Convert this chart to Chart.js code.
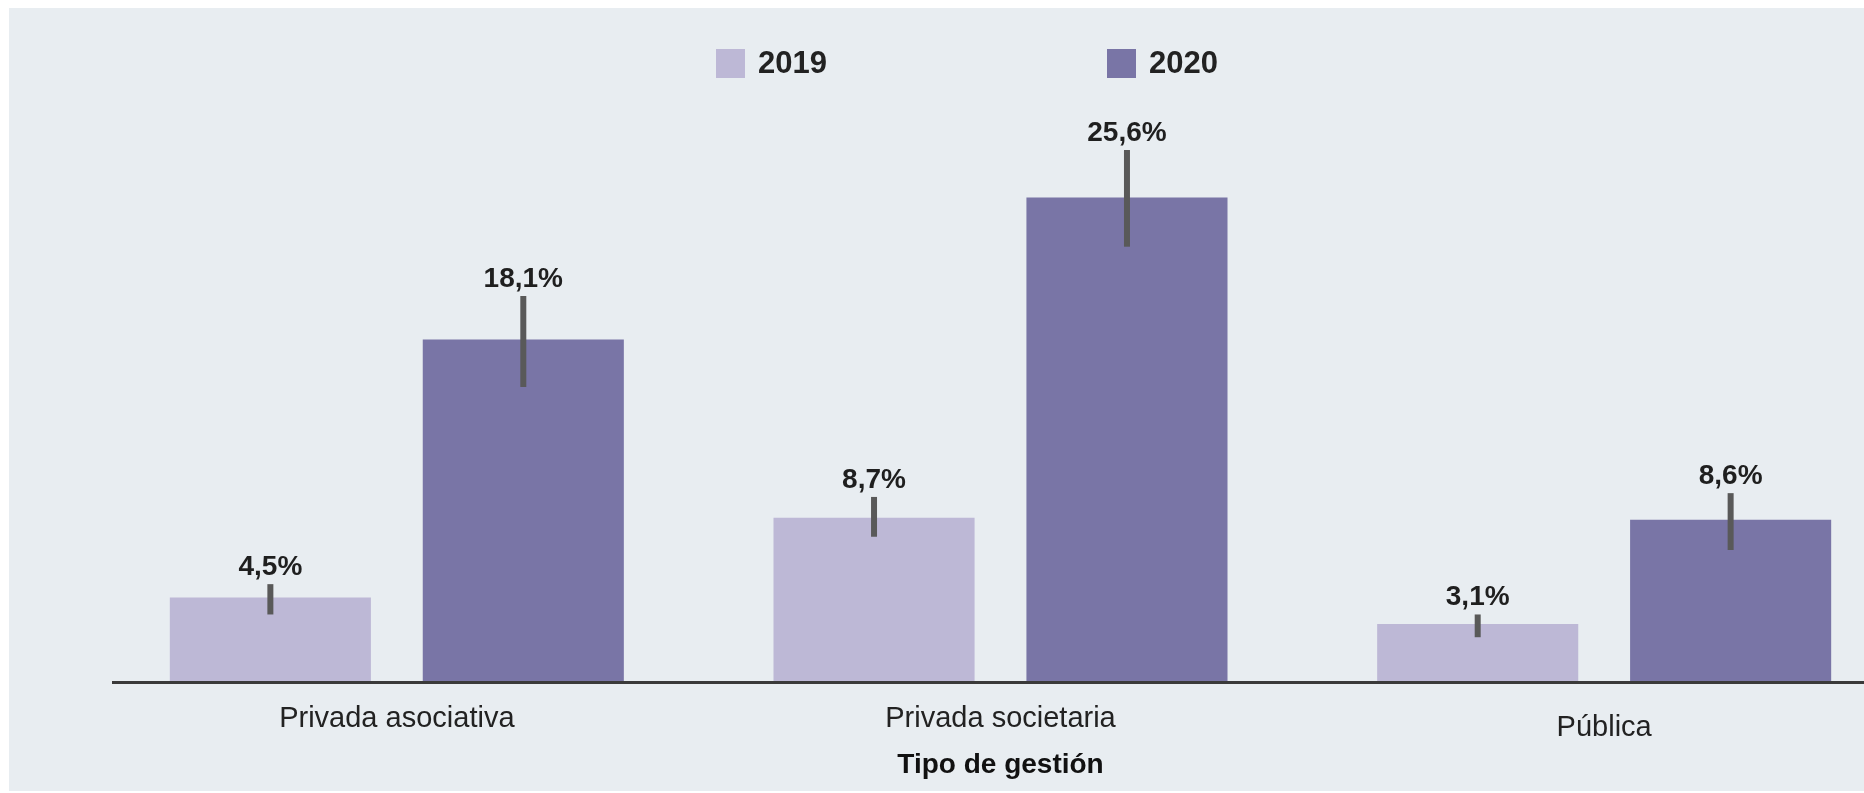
<!DOCTYPE html>
<html>
<head>
<meta charset="utf-8">
<script src="https://cdn.jsdelivr.net/npm/chart.js@4.4.1/dist/chart.umd.min.js"></script>
<style>
	body { margin: 0; background: #ffffff; overflow: hidden; width: 1864px; height: 793px; }
	#panel { position: absolute; left: 9px; top: 8px; width: 1910px; height: 783px; background: #e8edf1; }
	#legend { position: absolute; left: 707px; top: 37px; height: 29px; font: bold 31px 'Liberation Sans', sans-serif; color: #222; }
	.item { position: absolute; top: 0; display: flex; align-items: center; white-space: nowrap; }
	.box { width: 29px; height: 29px; margin-right: 13px; }
</style>
</head>
<body>
<div id="panel">
	<canvas id="chart" width="1910" height="783"></canvas>
	<div id="legend"></div>
</div>
<script>
const categories = ['Privada asociativa', 'Privada societaria', 'Pública']
const years = ['2019', '2020']
const values2019 = [4.5, 8.7, 3.1]
const values2020 = [18.1, 25.6, 8.6]
// error bar ends
const low2019 = [3.6, 7.7, 2.4]
const high2019 = [5.2, 9.8, 3.6]
const low2020 = [15.6, 23.0, 7.0]
const high2020 = [20.4, 28.1, 10.0]

const colors = ['#bdb8d6', '#7975a6']
const fontFamily = "'Liberation Sans', sans-serif"

const errorBars = {
	id: 'errorBars',
	afterDatasetsDraw(chart) {
		const { ctx } = chart
		const yScale = chart.scales.y
		const lows = [low2019, low2020]
		const highs = [high2019, high2020]
		chart.data.datasets.forEach((ds, d) => {
			chart.getDatasetMeta(d).data.forEach((bar, i) => {
				const top = yScale.getPixelForValue(highs[d][i])
				const bottom = yScale.getPixelForValue(lows[d][i])
				ctx.save()
				ctx.strokeStyle = '#595959'
				ctx.lineWidth = 6
				ctx.beginPath()
				ctx.moveTo(bar.x, bottom)
				ctx.lineTo(bar.x, top)
				ctx.stroke()
				ctx.fillStyle = '#1f1f1f'
				ctx.font = `bold 28px ${fontFamily}`
				ctx.textAlign = 'center'
				ctx.textBaseline = 'alphabetic'
				const text = ds.data[i].toLocaleString('es-ES', { minimumFractionDigits: 1 }) + '%'
				ctx.fillText(text, bar.x, top - 9)
				ctx.restore()
			})
		})
	}
}

const chart = new Chart(document.getElementById('chart'), {
	type: 'bar',
	data: {
		labels: categories,
		datasets: [
			{ label: years[0], data: values2019, backgroundColor: colors[0] },
			{ label: years[1], data: values2020, backgroundColor: colors[1] }
		]
	},
	options: {
		responsive: false,
		animation: false,
		categoryPercentage: 0.838,
		barPercentage: 0.795,
		layout: { padding: { top: 106, left: 86, right: 13, bottom: 5 } },
		plugins: {
			legend: { display: false },
			tooltip: { enabled: false }
		},
		scales: {
			x: {
				grid: { display: false, drawTicks: false },
				border: { display: false },
				ticks: {
					padding: 19,
					color: '#222',
					// the accented label sits a little lower in the original
					font: (c) => ({ family: fontFamily, size: 29, lineHeight: c.index === categories.length - 1 ? 1.82 : 1.2 })
				},
				title: {
					display: true,
					text: 'Tipo de gestión',
					color: '#111',
					font: { family: fontFamily, size: 28, weight: 'bold', lineHeight: 1 },
					padding: { top: -22, bottom: 6.5 }
				}
			},
			y: {
				min: 0,
				max: 30,
				ticks: { display: false, stepSize: 5 },
				border: { display: false, dash: [0, 17, 4000, 0] },
				grid: {
					drawTicks: false,
					z: 1,
					lineWidth: 3,
					color: (c) => (c.tick && c.tick.value === 0 ? '#3a3a3a' : 'rgba(0,0,0,0)')
				}
			}
		}
	},
	plugins: [errorBars]
})

// legend spread out like the original
const legendLeft = [0, 391]
document.getElementById('legend').innerHTML = chart.data.datasets
	.map((ds, i) => `<div class="item" style="left:${legendLeft[i]}px">
		<div class="box" style="background:${ds.backgroundColor}"></div>${ds.label}</div>`)
	.join('')
</script>
</body>
</html>
